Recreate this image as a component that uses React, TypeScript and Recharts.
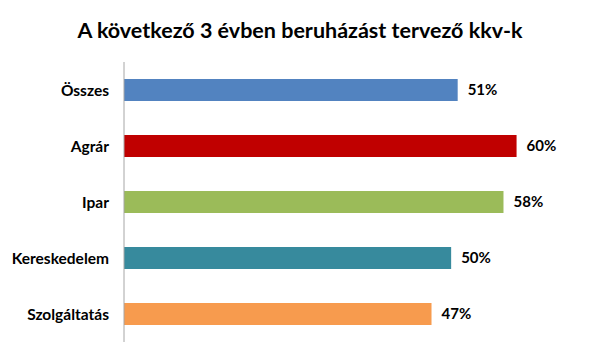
import React from 'react';
import { BarChart, Bar, XAxis, YAxis, Cell, LabelList } from 'recharts';

const categories = ['Összes', 'Agrár', 'Ipar', 'Kereskedelem', 'Szolgáltatás'];
const values = [51, 60, 58, 50, 47];
const colors = ['#5283c0', '#c00000', '#9bbb59', '#378a9d', '#f79b4e'];
const title = 'A következő 3 évben beruházást tervező kkv-k';

const data = categories.map((name, i) => ({ name, value: values[i] }));

const FONT = 'Lato, "Open Sans", sans-serif';

export default function App() {
  return (
    <div style={{ position: 'absolute', left: 0, top: 0, width: 600, height: 360, background: '#fff', fontFamily: FONT }}>
      <div
        style={{
          position: 'absolute',
          left: 0,
          top: 15,
          width: 600,
          textAlign: 'center',
          fontSize: 21.5,
          fontWeight: 'bold',
          color: '#000',
          lineHeight: '30px',
        }}
      >
        {title}
      </div>
      <BarChart
        width={600}
        height={360}
        data={data}
        layout="vertical"
        margin={{ top: 62, right: 18, bottom: 18, left: 0 }}
      >
        <XAxis type="number" domain={[0, 70]} hide />
        <YAxis
          type="category"
          dataKey="name"
          width={124}
          axisLine={{ stroke: '#a6a6a6', strokeWidth: 1 }}
          tickLine={false}
          tickSize={0}
          tickMargin={15}
          tick={{ fill: '#000', fontSize: 15.5, fontWeight: 'bold', fontFamily: FONT }}
        />
        <Bar dataKey="value" barSize={22} isAnimationActive={false}>
          {data.map((d, i) => (
            <Cell key={d.name} fill={colors[i]} />
          ))}
          <LabelList
            dataKey="value"
            position="right"
            offset={10}
            formatter={(v: number) => `${v}%`}
            style={{ fill: '#000', fontSize: 15, fontWeight: 'bold', fontFamily: FONT }}
          />
        </Bar>
      </BarChart>
    </div>
  );
}
